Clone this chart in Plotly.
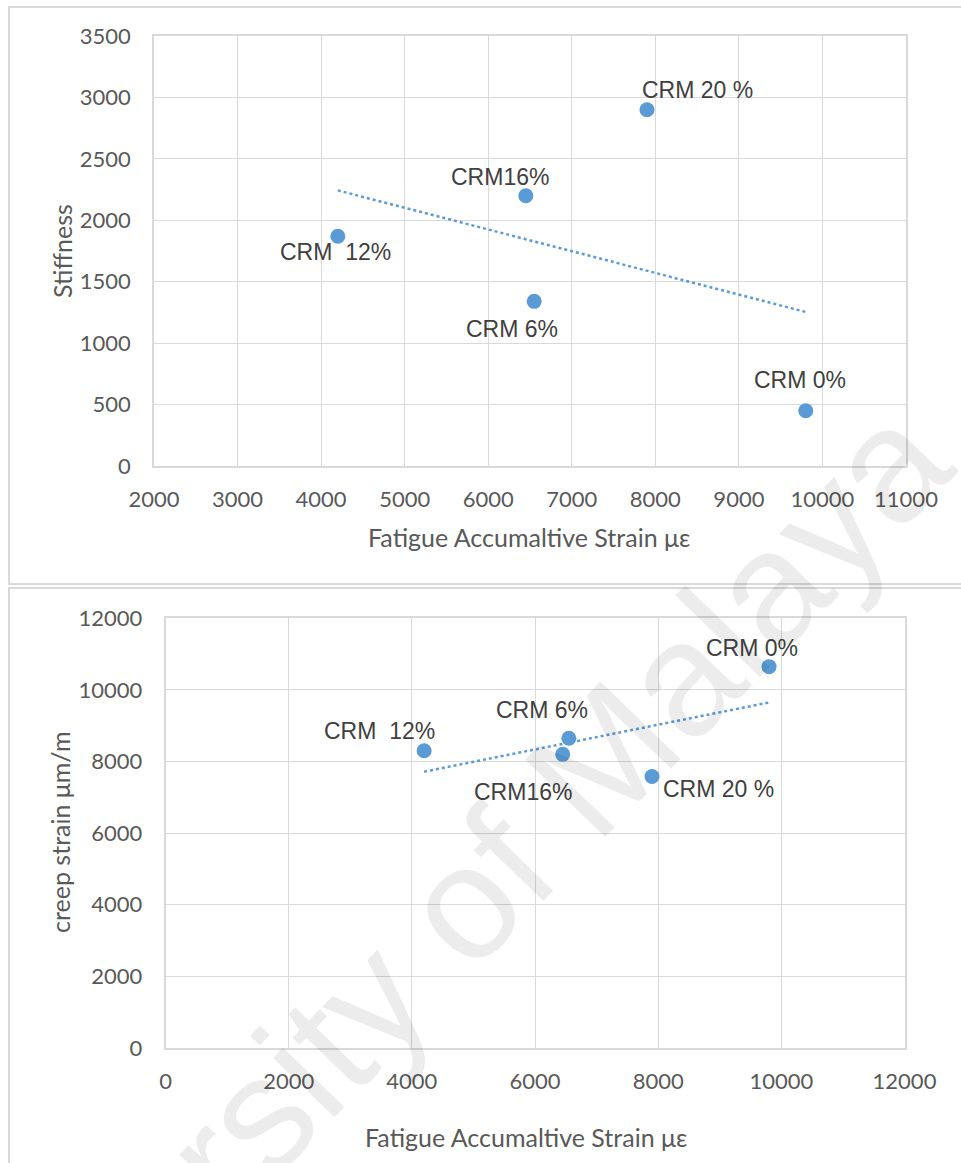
import numpy as np
import plotly.graph_objects as go

# ---------------- data ----------------
labels = ["CRM  12%", "CRM16%", "CRM 20 %", "CRM 6%", "CRM 0%"]
fatigue_strain = [4200, 6450, 7900, 6550, 9800]          # x for both charts
stiffness = [1870, 2200, 2900, 1340, 450]                 # top chart y
creep_strain = [8300, 8200, 7580, 8650, 10650]            # bottom chart y

top_xticks = [2000, 3000, 4000, 5000, 6000, 7000, 8000, 9000, 10000, 11000]
top_yticks = [0, 500, 1000, 1500, 2000, 2500, 3000, 3500]
bot_xticks = [0, 2000, 4000, 6000, 8000, 10000, 12000]
bot_yticks = [0, 2000, 4000, 6000, 8000, 10000, 12000]

x_title = "Fatigue Accumaltive Strain με"
top_y_title = "Stiffness"
bot_y_title = "creep strain μm/m"
watermark = "University of Malaya"

# label offsets in pixels (dx right, dy up) relative to each point
top_label_offsets = [(-2, -16), (-26, 19), (51, 20), (-22, -28), (-6, 31)]
bot_label_offsets = [(-45, 20), (-40, -38), (66, -12), (-27, 28), (-17, 19)]

# ---------------- style ----------------
W, H = 961, 1163
BLUE = "#5B9BD5"
GRID = "#D9D9D9"
TICK_C = "#595959"
LABEL_C = "#404040"
TICK_FONT = dict(family="Lato", size=22, color=TICK_C)
LABEL_FONT = dict(family="Liberation Sans", size=23, color=LABEL_C)
TITLE_FONT = dict(family="Lato", size=25, color=TICK_C)


def px_x(x):
    return x / W


def px_y(y):
    return 1 - y / H


fig = go.Figure()


def add_chart(xs, ys, xa, ya, offsets):
    # trendline (linear least squares, like Excel)
    k, b = np.polyfit(xs, ys, 1)
    tx = np.array([min(xs), max(xs)], dtype=float)
    fig.add_trace(go.Scatter(x=tx, y=k * tx + b, mode="lines",
                             line=dict(color=BLUE, width=2.5, dash="dot"),
                             xaxis=xa, yaxis=ya, showlegend=False, hoverinfo="skip"))
    fig.add_trace(go.Scatter(x=xs, y=ys, mode="markers",
                             marker=dict(color=BLUE, size=15, line=dict(width=0)),
                             xaxis=xa, yaxis=ya, showlegend=False))
    for lab, xv, yv, (dx, dy) in zip(labels, xs, ys, offsets):
        fig.add_annotation(x=xv, y=yv, xref=xa, yref=ya,
                           text=lab.replace("  ", " \u00a0"), showarrow=False,
                           xshift=dx, yshift=dy, font=LABEL_FONT,
                           xanchor="center", yanchor="middle")


add_chart(fatigue_strain, stiffness, "x", "y", top_label_offsets)
add_chart(fatigue_strain, creep_strain, "x2", "y2", bot_label_offsets)

axis_common = dict(showgrid=True, gridcolor=GRID, gridwidth=1,
                   showline=True, linecolor=GRID, linewidth=1.5, mirror=True,
                   zeroline=False, ticks="", tickfont=TICK_FONT, fixedrange=True,
                   automargin=False)


def tick_text(vals):
    return [str(v) for v in vals]


fig.update_layout(
    width=W, height=H, autosize=False,
    margin=dict(l=0, r=0, t=0, b=0, pad=0, autoexpand=False),
    paper_bgcolor="white", plot_bgcolor="white",
    xaxis=dict(domain=[px_x(154), px_x(906)], range=[2000, 11000],
               tickvals=top_xticks, ticktext=tick_text(top_xticks),
               ticklabelstandoff=13, anchor="y", **axis_common),
    yaxis=dict(domain=[px_y(466), px_y(36)], range=[0, 3500],
               tickvals=top_yticks, ticktext=tick_text(top_yticks),
               ticklabelstandoff=17, anchor="x", **axis_common),
    xaxis2=dict(domain=[px_x(165.5), px_x(904.5)], range=[0, 12000],
                tickvals=bot_xticks, ticktext=tick_text(bot_xticks),
                ticklabelstandoff=13, anchor="y2", **axis_common),
    yaxis2=dict(domain=[px_y(1048), px_y(618.3)], range=[0, 12000],
                tickvals=bot_yticks, ticktext=tick_text(bot_yticks),
                ticklabelstandoff=17, anchor="x2", **axis_common),
)

fig.add_annotation(text=x_title, x=px_x(529), y=px_y(537), xref="paper", yref="paper",
                   showarrow=False, font=TITLE_FONT, xanchor="center", yanchor="middle")
fig.add_annotation(text=top_y_title, x=px_x(62), y=px_y(251), xref="paper", yref="paper",
                   showarrow=False, font=TITLE_FONT, textangle=-90,
                   xanchor="center", yanchor="middle")
fig.add_annotation(text=x_title, x=px_x(526), y=px_y(1137), xref="paper", yref="paper",
                   showarrow=False, font=TITLE_FONT, xanchor="center", yanchor="middle")
fig.add_annotation(text=bot_y_title, x=px_x(60), y=px_y(833), xref="paper", yref="paper",
                   showarrow=False, font=TITLE_FONT, textangle=-90,
                   xanchor="center", yanchor="middle")

# chart frames
fig.add_shape(type="rect", xref="paper", yref="paper",
              x0=px_x(9), x1=1.02, y0=px_y(584), y1=px_y(7),
              line=dict(color=GRID, width=2), fillcolor="rgba(0,0,0,0)", layer="below")
fig.add_shape(type="rect", xref="paper", yref="paper",
              x0=px_x(9), x1=1.02, y0=-0.02, y1=px_y(588),
              line=dict(color=GRID, width=2), fillcolor="rgba(0,0,0,0)", layer="below")

# watermark
fig.add_annotation(text=watermark, x=px_x(411), y=px_y(956), xref="paper", yref="paper",
                   showarrow=False, textangle=-46,
                   font=dict(family="Liberation Sans", size=162, color="rgba(0,0,0,0.075)"),
                   xanchor="center", yanchor="middle")

fig.write_html("out.html", config={"displayModeBar": False},
               post_script="document.body.style.margin='0';")
